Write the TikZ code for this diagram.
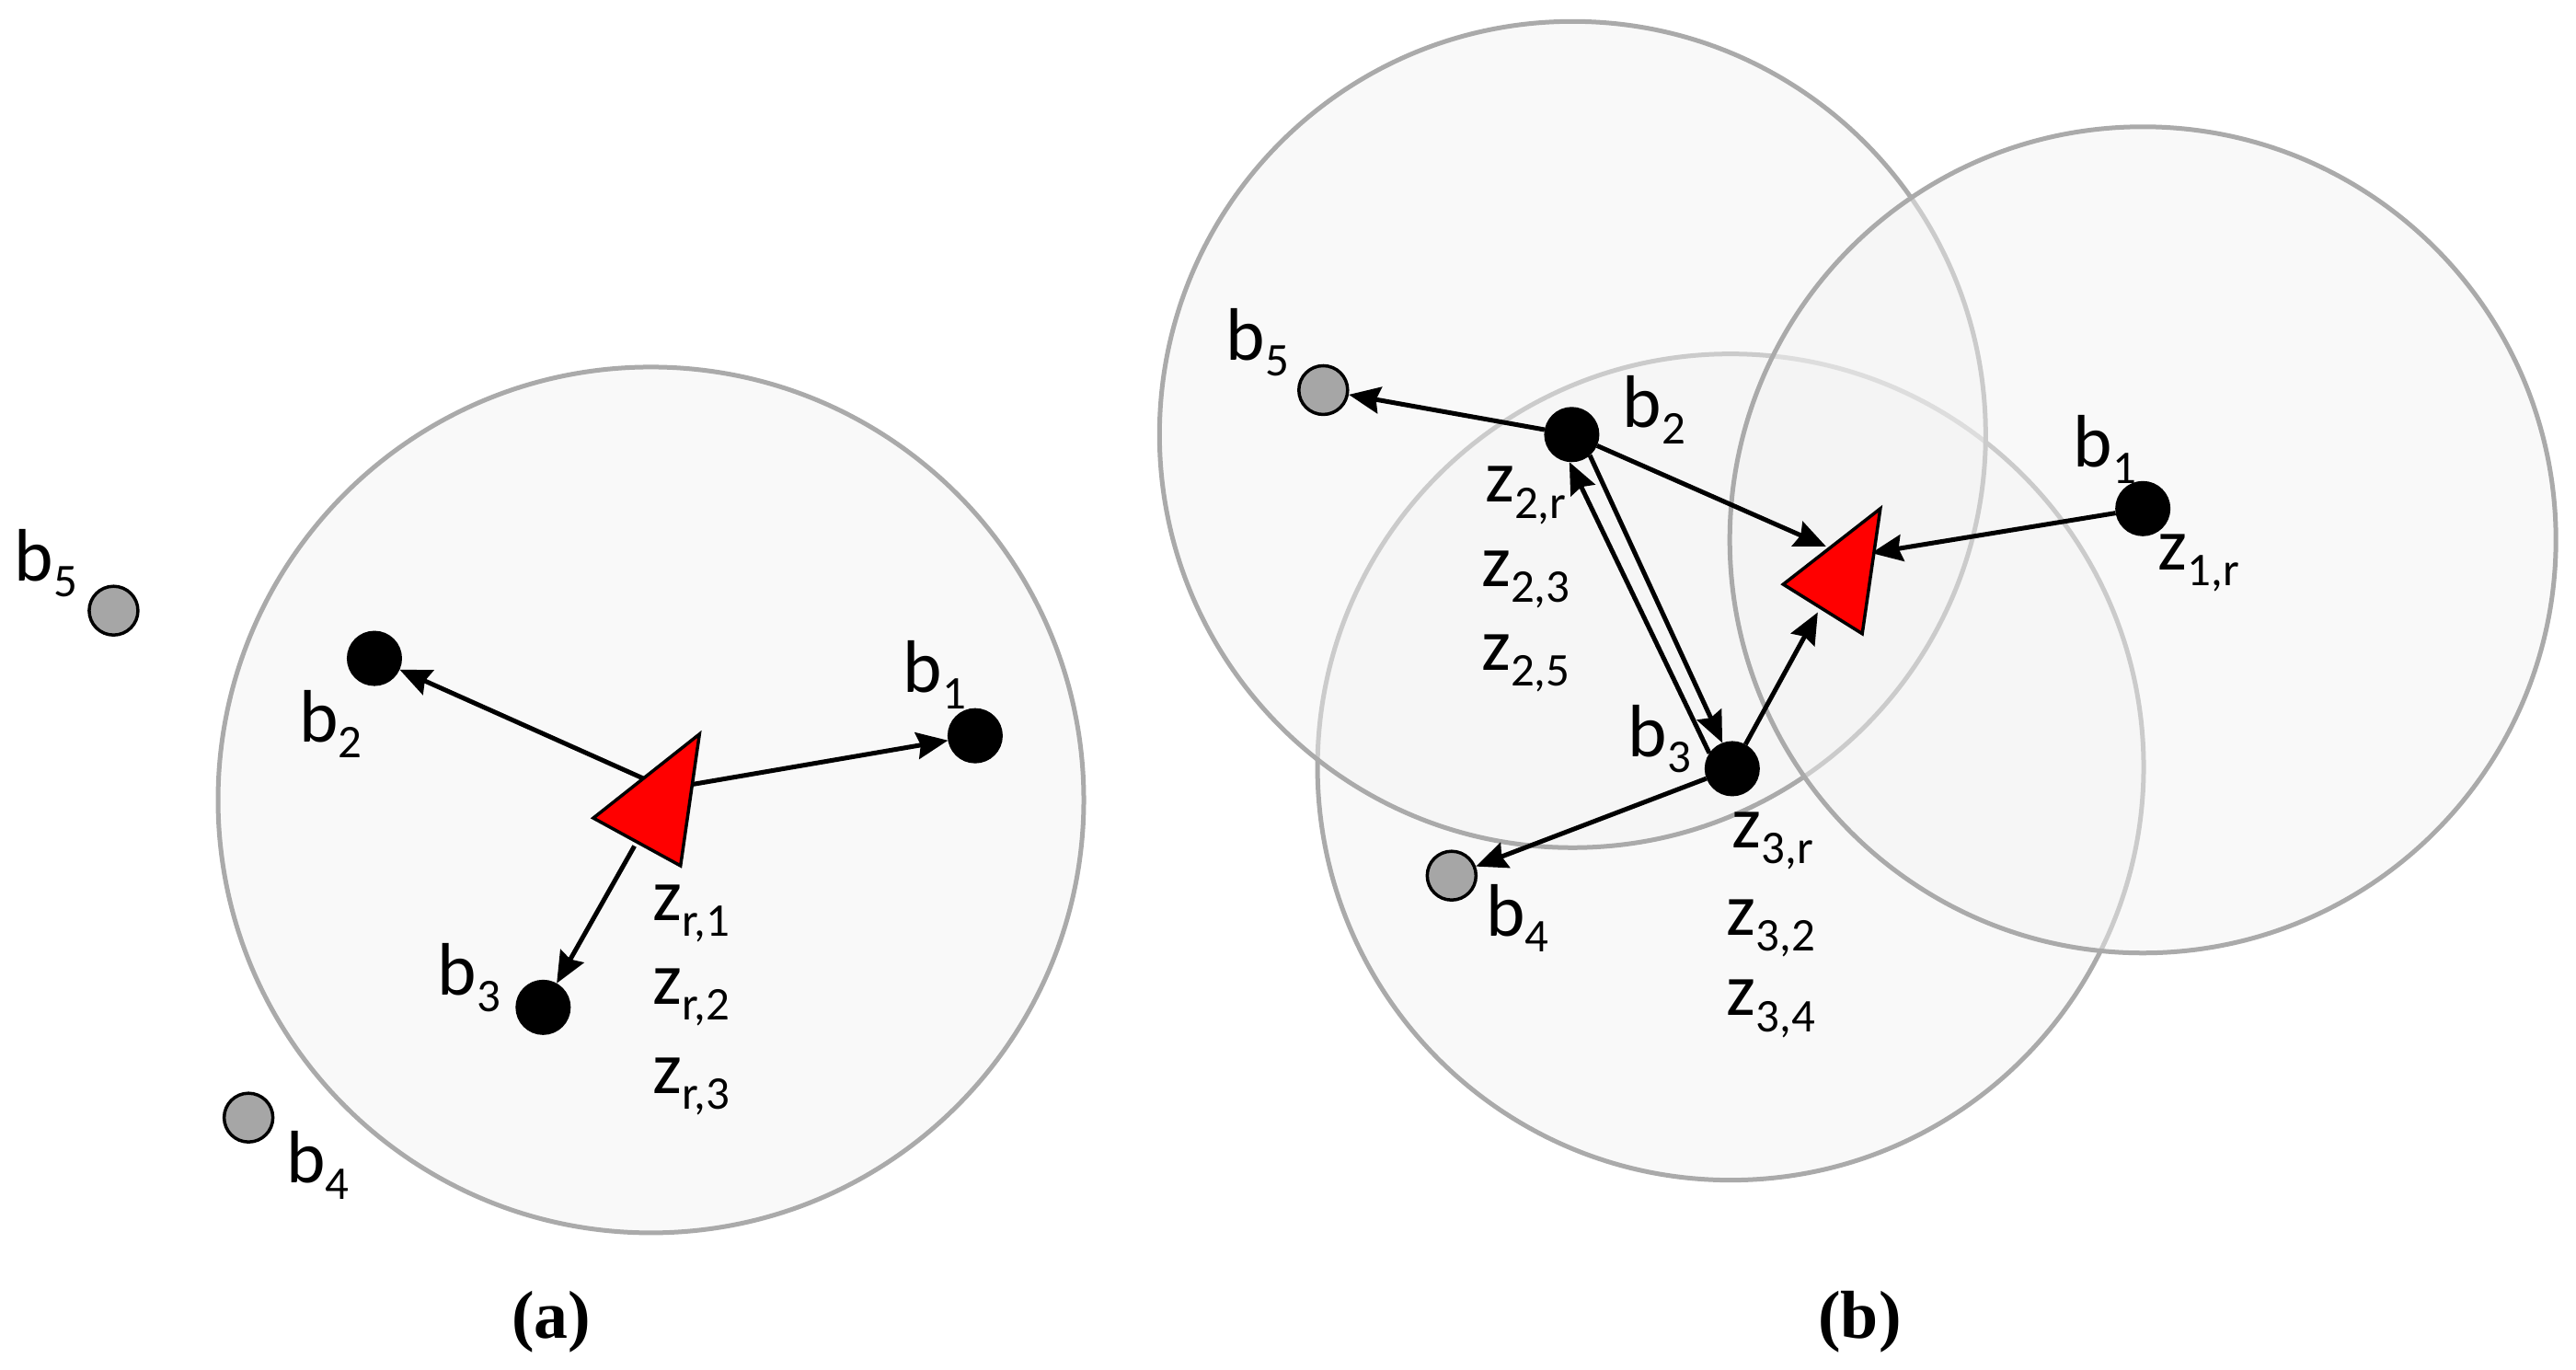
\documentclass[tikz,border=0pt]{standalone}
\usepackage{fontspec}
\setmainfont{Carlito}
\newfontfamily\capfont{Liberation Serif}
\usetikzlibrary{arrows.meta}
\definecolor{rimgray}{HTML}{AAAAAA}
\definecolor{diskgray}{HTML}{F2F2F2}
\definecolor{dotgray}{HTML}{A6A6A6}
\def\sublab#1#2{#1\raisebox{-0.45ex}{\fontsize{14.5}{15}\selectfont #2}}

\begin{document}
\begin{tikzpicture}[x=0.1789mm,y=-0.1789mm,>={Stealth[length=3.4mm,width=2.9mm,inset=0.4mm]},->,line width=0.5mm,shorten >=0pt]
	\tikzstyle{disk}=[circle,draw=rimgray,line width=0.5mm,fill=diskgray,fill opacity=0.47,inner sep=0pt]
	\tikzstyle{bigdisk}=[disk,minimum size=94.1mm]
	\tikzstyle{smalldisk}=[disk,minimum size=89.8mm]
	\tikzstyle{active}=[circle,fill=black,draw=black,inner sep=0pt,minimum size=5.5mm]
	\tikzstyle{idle}=[circle,fill=dotgray,draw=black,line width=0.35mm,inner sep=0pt,minimum size=5.3mm]
	\tikzstyle{lab}=[font=\fontsize{23}{23}\selectfont,inner sep=0pt]
	\tikzstyle{figcap}=[font=\capfont\bfseries\fontsize{21}{21}\selectfont,inner sep=0pt]
	\useasboundingbox (0,0) rectangle (1565.2,832.3);

	% panel (a)
	\node[bigdisk] (diskr) at (395.5,486) {};
	\node[active] (ab1) at (592.5,447) {};
	\node[active] (ab2) at (227.5,400) {};
	\node[active] (ab3) at (330,612) {};
	\node[idle]   (ab4) at (151,679) {};
	\node[idle]   (ab5) at (69,371) {};
	\coordinate (ar1) at (418,477);
	\coordinate (ar2) at (391,473);
	\coordinate (ar3) at (385.5,514);
	\path (ar1) edge (ab1);
	\path (ar2) edge (ab2);
	\path (ar3) edge (ab3);
	\draw[-,fill=red,line width=0.35mm,line join=miter] (425,446) -- (360.5,497) -- (413.5,526) -- cycle;
	\node[lab] (labb1) at (568,410) {\sublab{b}{1}};
	\node[lab] (labb2) at (201,440) {\sublab{b}{2}};
	\node[lab] (labb3) at (285,594) {\sublab{b}{3}};
	\node[lab] (labb4) at (193,708) {\sublab{b}{4}};
	\node[lab] (labb5) at (28,342)  {\sublab{b}{5}};
	\node[lab] (lazr1) at (420,555) {\sublab{z}{r,1}};
	\node[lab] (lazr2) at (420,606) {\sublab{z}{r,2}};
	\node[lab] (lazr3) at (420,660) {\sublab{z}{r,3}};
	\node[figcap] (capa) at (335,803) {(a)};

	% panel (b)
	\node[smalldisk] (disk3) at (1051.5,466) {};
	\node[smalldisk] (disk2) at (955.5,264) {};
	\node[smalldisk] (disk1) at (1302,328) {};
	\node[active] (bb1) at (1302,309) {};
	\node[active] (bb2) at (955,264) {};
	\node[active] (bb3) at (1052.5,467) {};
	\node[idle]   (bb4) at (882,532) {};
	\node[idle]   (bb5) at (804,237) {};
	\coordinate (br1) at (1137,336);
	\coordinate (br2) at (1109.5,332);
	\coordinate (br3) at (1104.5,372);
	\path (bb1) edge (br1);
	\path (bb2) edge (br2);
	\path (bb3) edge (br3);
	\path (bb2) edge (bb5);
	\path (bb3) edge (bb4);
	\path (bb3.146) edge (bb2.-95);
	\path (bb2.-49) edge (bb3.111);
	\draw[-,fill=red,line width=0.35mm,line join=miter] (1142.5,309) -- (1083.5,355) -- (1131.5,385) -- cycle;
	\node[lab] (lbb1) at (1279,273) {\sublab{b}{1}};
	\node[lab] (lbb2) at (1005,249) {\sublab{b}{2}};
	\node[lab] (lbb3) at (1008.5,449) {\sublab{b}{3}};
	\node[lab] (lbb4) at (922,558)  {\sublab{b}{4}};
	\node[lab] (lbb5) at (764,208)  {\sublab{b}{5}};
	\node[lab] (lbz1r) at (1336,342) {\sublab{z}{1,r}};
	\node[lab] (lbz2r) at (927,301) {\sublab{z}{2,r}};
	\node[lab] (lbz23) at (927,352) {\sublab{z}{2,3}};
	\node[lab] (lbz25) at (927,403) {\sublab{z}{2,5}};
	\node[lab] (lbz3r) at (1077,511) {\sublab{z}{3,r}};
	\node[lab] (lbz32) at (1076,564) {\sublab{z}{3,2}};
	\node[lab] (lbz34) at (1076,613) {\sublab{z}{3,4}};
	\node[figcap] (capb) at (1130,803) {(b)};
\end{tikzpicture}
\end{document}
